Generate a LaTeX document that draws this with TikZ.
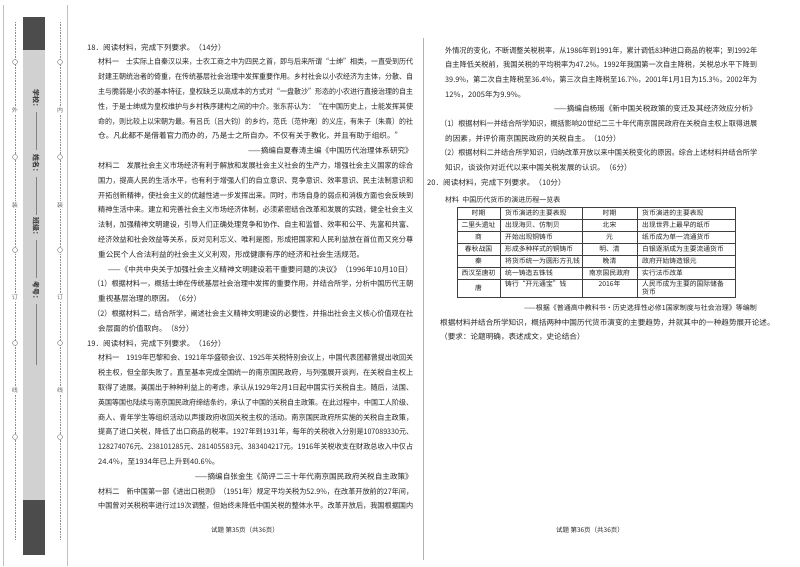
\documentclass[tikz,border=0pt]{standalone}
\usepackage{fontspec}
\usepackage{graphicx}
\setmainfont{Noto Sans CJK SC}
\newsavebox\lbox
\newcommand\fitline[2]{\sbox\lbox{#2}\pgfmathsetmacro\fsc{#1/\the\wd\lbox}\scalebox{\fsc}[1]{\usebox\lbox}}
\tikzset{
  txt/.style={anchor=base west,inner sep=0,text=black!85,font=\fontsize{7.6}{9}\selectfont},
  src/.style={anchor=base east,inner sep=0,text=black!85,font=\fontsize{7.6}{9}\selectfont},
  tcell/.style={inner sep=0,text=black!85,font=\fontsize{6.8}{8}\selectfont},
  margtxt/.style={inner sep=0,text=black!60,font=\fontsize{6}{7}\selectfont},
  hole/.style={circle,draw=black!55,fill=white,minimum size=5pt,inner sep=0},
  cutline/.style={draw=black!45,densely dotted,line width=0.6pt}
}
\begin{document}
\begin{tikzpicture}[x=1pt,y=-1pt]
\useasboundingbox (0,0) rectangle (800,566);
\fill[white] (0,0) rectangle (800,566);
% binding margin
\draw[black!25,line width=0.8pt] (3,5) -- (3,566) (67,5) -- (67,566);
\fill[black!18] (23,17) rectangle (45,555);
\fill[black!70] (23,17) rectangle (45,50);
\fill[black!70] (23,500) rectangle (45,555);
\draw[cutline] (15,22) -- (15,540);
\draw[cutline] (60,22) -- (60,540);
\foreach \yy/\nm in {62/a,157/b,250/c,343/d,437/e}{
  \node[hole] (hl\nm) at (15,\yy) {};
  \node[hole] (hr\nm) at (60,\yy) {};
}
\foreach \yy/\ch/\nm in {110/外/a,205/装/b,297/订/c,390/线/d}{
  \node[margtxt,fill=white,inner sep=1pt] (ml\nm) at (15,\yy) {\ch};
}
\foreach \yy/\ch/\nm in {110/内/a,205/装/b,297/订/c,390/线/d}{
  \node[margtxt,fill=white,inner sep=1pt] (mr\nm) at (60,\yy) {\ch};
}
\foreach \yy/\lab/\nm in {100/学校：/a,165/姓名：/b,228/班级：/c,292/考号：/d}{
  \node[rotate=-90,inner sep=0,font=\fontsize{7}{8}\selectfont\bfseries,text=black!75] (lab\nm) at (36,\yy) {\lab};
}
\draw[black!50,line width=0.5pt] (36,112) -- (36,150) (36,177) -- (36,215) (36,240) -- (36,278) (36,304) -- (36,365);
% column divider
\draw[black!30,line width=0.8pt] (423,38) -- (423,560);

% ---------------- left column ----------------
\node[txt] (L0) at (87,50) {18．阅读材料，完成下列要求。（14分）};
\node[txt] (L1) at (98,64.8) {\fitline{315}{材料一　士实际上自秦汉以来，士农工商之中为四民之首，即与后来所谓“士绅”相类，一直受到历代}};
\node[txt] (L2) at (98,79.6) {\fitline{315}{封建王朝统治者的倚重，在传统基层社会治理中发挥重要作用。乡村社会以小农经济为主体，分散、自}};
\node[txt] (L3) at (98,94.4) {\fitline{315}{主与脆弱是小农的基本特征，皇权缺乏以高成本的方式对“一盘散沙”形态的小农进行直接治理的自主}};
\node[txt] (L4) at (98,109.2) {\fitline{315}{性，于是士绅成为皇权维护与乡村秩序建构之间的中介。张东荪认为：“在中国历史上，士能发挥其使}};
\node[txt] (L5) at (98,124) {\fitline{315}{命的，则比较上以宋朝为最。有吕氏（吕大钧）的乡约，范氏（范仲淹）的义庄，有朱子（朱熹）的社}};
\node[txt] (L6) at (98,138.8) {仓。凡此都不是借着官力而办的，乃是士之所自办。不仅有关于教化，并且有助于组织。”};
\node[src] (L7) at (413,153.6) {——摘编自夏春涛主编《中国历代治理体系研究》};
\node[txt] (L8) at (98,168.4) {\fitline{315}{材料二　发展社会主义市场经济有利于解放和发展社会主义社会的生产力，增强社会主义国家的综合}};
\node[txt] (L9) at (98,183.2) {\fitline{315}{国力，提高人民的生活水平，也有利于增强人们的自立意识、竞争意识、效率意识、民主法制意识和}};
\node[txt] (L10) at (98,198) {\fitline{315}{开拓创新精神，使社会主义的优越性进一步发挥出来。同时，市场自身的弱点和消极方面也会反映到}};
\node[txt] (L11) at (98,212.8) {\fitline{315}{精神生活中来。建立和完善社会主义市场经济体制，必须紧密结合改革和发展的实践，健全社会主义}};
\node[txt] (L12) at (98,227.6) {\fitline{315}{法制，加强精神文明建设，引导人们正确处理竞争和协作、自主和监督、效率和公平、先富和共富、}};
\node[txt] (L13) at (98,242.4) {\fitline{315}{经济效益和社会效益等关系，反对见利忘义、唯利是图，形成把国家和人民利益放在首位而又充分尊}};
\node[txt] (L14) at (98,257.2) {重公民个人合法利益的社会主义义利观，形成健康有序的经济和社会生活规范。};
\node[src] (L15) at (413,272) {——《中共中央关于加强社会主义精神文明建设若干重要问题的决议》（1996年10月10日）};
\node[txt] (L16) at (93,286.8) {\fitline{320}{（1）根据材料一，概括士绅在传统基层社会治理中发挥的重要作用，并结合所学，分析中国历代王朝}};
\node[txt] (L17) at (98,301.6) {重视基层治理的原因。（6分）};
\node[txt] (L18) at (93,316.4) {\fitline{320}{（2）根据材料二，结合所学，阐述社会主义精神文明建设的必要性，并指出社会主义核心价值观在社}};
\node[txt] (L19) at (98,331.2) {会层面的价值取向。（8分）};
\node[txt] (L20) at (87,346) {19．阅读材料，完成下列要求。（16分）};
\node[txt] (L21) at (98,360.8) {\fitline{315}{材料一　1919年巴黎和会、1921年华盛顿会议、1925年关税特别会议上，中国代表团都曾提出收回关}};
\node[txt] (L22) at (98,375.6) {\fitline{315}{税主权，但全部失败了。直至基本完成全国统一的南京国民政府，与列强展开谈判，在关税自主权上}};
\node[txt] (L23) at (98,390.4) {\fitline{315}{取得了进展。美国出于种种利益上的考虑，承认从1929年2月1日起中国实行关税自主。随后，法国、}};
\node[txt] (L24) at (98,405.2) {\fitline{315}{英国等国也陆续与南京国民政府缔结条约，承认了中国的关税自主政策。在此过程中，中国工人阶级、}};
\node[txt] (L25) at (98,420) {\fitline{315}{商人、青年学生等组织活动以声援政府收回关税主权的活动。南京国民政府所实施的关税自主政策，}};
\node[txt] (L26) at (98,434.8) {\fitline{315}{提高了进口关税，降低了出口商品的税率。1927年到1931年，每年的关税收入分别是107089330元、}};
\node[txt] (L27) at (98,449.6) {\fitline{315}{128274076元、238101285元、281405583元、383404217元。1916年关税收支在财政总收入中仅占}};
\node[txt] (L28) at (98,464.4) {24.4\%，至1934年已上升到40.6\%。};
\node[src] (L29) at (413,479.2) {——摘编自张金生《简评二三十年代南京国民政府关税自主政策》};
\node[txt] (L30) at (98,494) {\fitline{315}{材料二　新中国第一部《进出口税则》（1951年）规定平均关税为52.9\%，在改革开放前的27年间，}};
\node[txt] (L31) at (98,508.8) {\fitline{315}{中国曾对关税税率进行过19次调整，但始终未降低中国关税的整体水平。改革开放后，我国根据国内}};
\node[inner sep=0,text=black!85,font=\fontsize{6.5}{8}\selectfont] (F1) at (245,530) {试题\ 第35页（共36页）};

% ---------------- right column ----------------
\node[txt] (R0) at (445,53) {\fitline{312}{外情况的变化，不断调整关税税率，从1986年到1991年，累计调低83种进口商品的税率；到1992年}};
\node[txt] (R1) at (445,67.7) {\fitline{312}{自主降低关税前，我国关税的平均税率为47.2\%。1992年我国第一次自主降税，关税总水平下降到}};
\node[txt] (R2) at (445,82.4) {\fitline{312}{39.9\%，第二次自主降税至36.4\%，第三次自主降税至16.7\%，2001年1月1日为15.3\%，2002年为}};
\node[txt] (R3) at (445,97.1) {12\%，2005年为9.9\%。};
\node[src] (R4) at (757,111.8) {——摘编自杨瑶《新中国关税政策的变迁及其经济效应分析》};
\node[txt] (R5) at (440,126.5) {\fitline{317}{（1）根据材料一并结合所学知识，概括影响20世纪二三十年代南京国民政府在关税自主权上取得进展}};
\node[txt] (R6) at (445,141.2) {的因素，并评价南京国民政府的关税自主。（10分）};
\node[txt] (R7) at (440,155.9) {\fitline{317}{（2）根据材料二并结合所学知识，归纳改革开放以来中国关税变化的原因。综合上述材料并结合所学}};
\node[txt] (R8) at (445,170.6) {知识，谈谈你对近代以来中国关税发展的认识。（6分）};
\node[txt] (R9) at (427,185.3) {20．阅读材料，完成下列要求。（10分）};
\node[txt,font=\fontsize{7}{8}\selectfont] (R10) at (445,202) {材料\ \ 中国历代货币的演进历程一览表};

% table
\draw[black!75,line width=0.5pt] (457,207) rectangle (735,297);
\foreach \yy in {219,231,243,255,267,279}{\draw[black!75,line width=0.4pt] (457,\yy) -- (735,\yy);}
\foreach \xx in {500,582,637}{\draw[black!75,line width=0.4pt] (\xx,207) -- (\xx,297);}
\foreach \r/\yy/\a/\b/\c/\d in {
 0/213/时期/货币演进的主要表现/时期/货币演进的主要表现,
 1/225/二里头遗址/出现海贝、仿制贝/北宋/出现世界上最早的纸币,
 2/237/商/开始出现铜铸币/元/纸币成为单一流通货币,
 3/249/春秋战国/形成多种样式的铜铸币/明、清/白银逐渐成为主要流通货币,
 4/261/秦/将货币统一为圆形方孔钱/晚清/政府开始铸造银元,
 5/273/西汉至唐初/统一铸造五铢钱/南京国民政府/实行法币改革}{
  \node[tcell] (ta\r) at (478.5,\yy) {\a};
  \node[tcell,anchor=west] (tb\r) at (505,\yy) {\b};
  \node[tcell] (tc\r) at (609.5,\yy) {\c};
  \node[tcell,anchor=west] (td\r) at (642,\yy) {\d};
}
\node[tcell] (ta6) at (478.5,288) {唐};
\node[tcell,anchor=west] (tb6) at (505,284) {铸行“开元通宝”钱};
\node[tcell] (tc6) at (609.5,284) {2016年};
\node[tcell,anchor=west,align=left] (td6) at (642,288) {人民币成为主要的国际储备\\货币};

\node[src,font=\fontsize{7}{8}\selectfont] (R11) at (757,310) {——根据《普通高中教科书·历史选择性必修1国家制度与社会治理》等编制};
\node[txt] (R12) at (440,325) {根据材料并结合所学知识，概括两种中国历代货币演变的主要趋势，并就其中的一种趋势展开论述。};
\node[txt] (R13) at (440,339.7) {（要求：论题明确，表述成文，史论结合）};
\node[inner sep=0,text=black!85,font=\fontsize{6.5}{8}\selectfont] (F2) at (590,530) {试题\ 第36页（共36页）};
\end{tikzpicture}
\end{document}
